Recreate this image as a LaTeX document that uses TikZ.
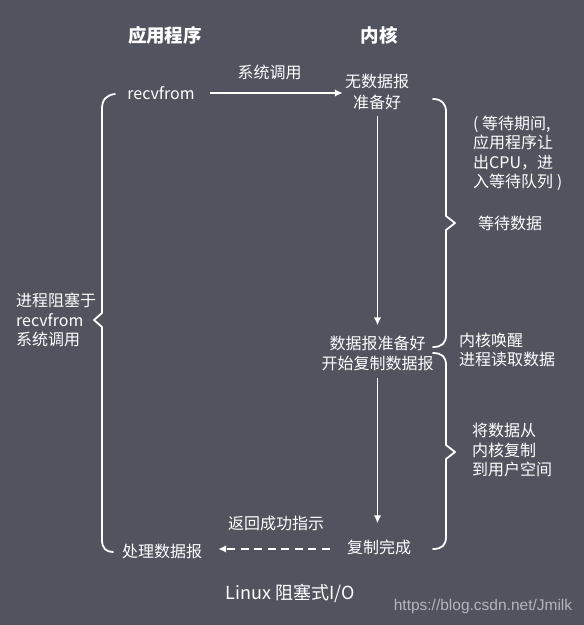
\documentclass[tikz,border=0pt]{standalone}
\usepackage{fontspec}
\setmainfont{Noto Sans CJK SC}
\newfontfamily\wmfont{Liberation Sans}
\usetikzlibrary{arrows.meta}
\definecolor{bg}{RGB}{81,83,94}
\definecolor{wm}{RGB}{180,181,188}
\tikzset{
  txt/.style={text=white, inner sep=2pt, font=\fontsize{16}{19.5}\selectfont},
  ttl/.style={text=white, inner sep=2pt, font=\fontsize{18.5}{22}\selectfont\bfseries},
  arr/.style={draw=white, line width=1.8pt, -{Latex[length=8pt,width=7.5pt]}},
  darr/.style={arr, dash pattern=on 8pt off 5.5pt},
  brc/.style={draw=white, line width=1.8pt, line join=round, line cap=round},
}
\begin{document}
\begin{tikzpicture}[x=1pt,y=-1pt]
\fill[bg] (0,0) rectangle (584,625);
\useasboundingbox (0,0) rectangle (584,625);

% titles
\node[ttl] (tapp) at (165,35) {应用程序};
\node[ttl] (tker) at (379,35) {内核};

% main nodes
\node[txt] (recv) at (161,93) {recvfrom};
\node[txt, font=\fontsize{16}{20.5}\selectfont, align=center] (nodata) at (377,92) {无数据报\\准备好};
\node[txt, font=\fontsize{16}{20}\selectfont, align=center] (ready) at (377.5,353) {数据报准备好\\开始复制数据报};
\node[txt] (done) at (379,547) {复制完成};
\node[txt] (proc) at (162,551) {处理数据报};

% connector labels
\node[txt] (syscall) at (269.5,72) {系统调用};
\node[txt] (ret) at (276,523) {返回成功指示};

% connectors
\draw[arr, shorten <=13pt] (recv.east) -- (recv.east -| nodata.west);
\draw[arr, shorten <=4pt, shorten >=8pt] (nodata.south -| ready.north) -- (ready.north);
\draw[arr, shorten <=5pt, shorten >=14pt] (ready.south) -- (ready.south |- done.north);
\draw[darr, shorten <=15pt, shorten >=14pt] ([yshift=-2pt]done.west) -- ([yshift=-2pt]done.west -| proc.east);

% braces
\draw[brc] (115,94) .. controls (106,95) and (102,100) .. (102,109)
  -- (102,313) -- (94,320) -- (102,327) -- (102,540)
  .. controls (102,548) and (106,552) .. (113,552);
\draw[brc] (433,99) .. controls (442,99) and (446,104) .. (446,112)
  -- (446,216) -- (455,223) -- (446,230) -- (446,335)
  .. controls (446,343) and (442,347) .. (433,347);
\draw[brc] (433,353) .. controls (442,353) and (446,357) .. (446,365)
  -- (446,445) -- (455,452) -- (446,459) -- (446,537)
  .. controls (446,545) and (442,549) .. (433,549);

% brace labels
\node[txt, anchor=west, align=left] (lblock) at (14,320) {进程阻塞于\\recvfrom\\系统调用};
\node[txt, anchor=west, align=left] (lwaitnote) at (471,153.5) {( 等待期间,\\应用程序让\\出CPU，进\\入等待队列 )};
\node[txt, anchor=west] (lwait) at (476,223) {等待数据};
\node[txt, anchor=west, align=left] (lwake) at (457,350) {内核唤醒\\进程读取数据};
\node[txt, anchor=west, align=left] (lcopy) at (470,450) {将数据从\\内核复制\\到用户空间};

% caption and watermark
\node[text=white, font=\fontsize{18}{22}\selectfont] (cap) at (290,593) {Linux 阻塞式I/O};
\node[text=wm, font=\wmfont\fontsize{15.5}{18}\selectfont] (wmark) at (483,606) {https://blog.csdn.net/Jmilk};
\end{tikzpicture}
\end{document}
